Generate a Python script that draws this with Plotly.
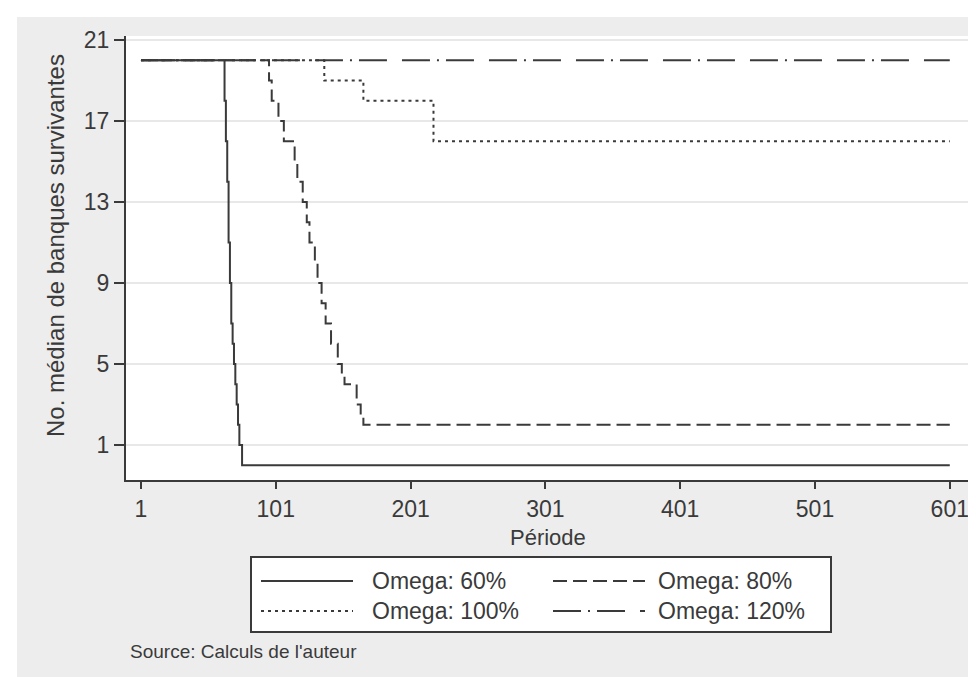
import plotly.graph_objects as go

# Données (périodes où la médiane change, valeurs)
periode_60 = [1, 63, 64, 65, 66, 67, 68, 69, 70, 71, 72, 73, 74, 76, 601]
banques_60 = [20, 18, 16, 14, 11, 9, 7, 6, 5, 4, 3, 2, 1, 0, 0]

periode_80 = [1, 96, 98, 103, 107, 115, 117, 121, 124, 126, 130, 132, 135,
              138, 142, 147, 150, 152, 161, 164, 166, 601]
banques_80 = [20, 19, 18, 17, 16, 15, 14, 13, 12, 11, 10, 9, 8,
              7, 6, 5, 4.5, 4, 3, 2.5, 2, 2]

periode_100 = [1, 137, 166, 218, 601]
banques_100 = [20, 19, 18, 16, 16]

periode_120 = [1, 601]
banques_120 = [20, 20]

x_ticks = [1, 101, 201, 301, 401, 501, 601]
y_ticks = [1, 5, 9, 13, 17, 21]

series = [
    ("Omega: 60%", periode_60, banques_60, "solid"),
    ("Omega: 80%", periode_80, banques_80, "14px,6px"),
    ("Omega: 100%", periode_100, banques_100, "3px,4px"),
    ("Omega: 120%", periode_120, banques_120, "28px,7px,2px,7px,28px,15px"),
]

W, H = 976, 677
L, R, T, B = 118, 14, 28, 205
PW, PH = W - L - R, H - T - B
INK = "#3a3a3a"
FONT = "Liberation Sans, Arial, sans-serif"


def px(x, y):
    # pixel -> paper coordinates
    return (x - L) / PW, (H - B - y) / PH


fig = go.Figure()
for name, xs, ys, dash in series:
    fig.add_trace(go.Scatter(x=xs, y=ys, mode="lines", name=name,
                             line=dict(color=INK, width=2, dash=dash, shape="hv"),
                             showlegend=False))

shapes = []
# white border around the grey panel
for x0, y0, x1, y1 in [(0, 0, W, 9), (0, 0, 9, H), (0, 675, W, H), (968, 0, W, H)]:
    a, b = px(x0, y0)
    c, d = px(x1, y1)
    shapes.append(dict(type="rect", xref="paper", yref="paper", x0=a, y0=b, x1=c, y1=d,
                       fillcolor="white", line=dict(width=0), layer="below"))

# legend box
a, b = px(243, 549)
c, d = px(823, 624)
shapes.append(dict(type="rect", xref="paper", yref="paper", x0=a, y0=b, x1=c, y1=d,
                   fillcolor="white", line=dict(color=INK, width=2)))

annotations = []
leg_pos = [(253, 345, 362, 573), (545, 637, 648, 573), (253, 345, 362, 603), (545, 637, 648, 603)]
for (name, _, _, dash), (lx0, lx1, tx, ly) in zip(series, leg_pos):
    a, b = px(lx0, ly)
    c, _ = px(lx1, ly)
    shapes.append(dict(type="line", xref="paper", yref="paper", x0=a, y0=b, x1=c, y1=b,
                       line=dict(color=INK, width=2, dash=dash)))
    t, _ = px(tx, ly)
    annotations.append(dict(x=t, y=b, xref="paper", yref="paper", text=name, showarrow=False,
                            xanchor="left", yanchor="middle",
                            font=dict(size=23, color=INK, family=FONT)))

a, b = px(47, 238)
annotations.append(dict(x=a, y=b, xref="paper", yref="paper", text="No. médian de banques survivantes",
                        textangle=-90, showarrow=False, xanchor="center", yanchor="middle",
                        font=dict(size=24, color=INK, family=FONT)))
a, b = px(540, 529)
annotations.append(dict(x=a, y=b, xref="paper", yref="paper", text="Période", showarrow=False,
                        xanchor="center", yanchor="middle",
                        font=dict(size=22, color=INK, family=FONT)))
a, b = px(120, 643)
annotations.append(dict(x=a, y=b, xref="paper", yref="paper", text="Source: Calculs de l'auteur",
                        showarrow=False, xanchor="left", yanchor="middle",
                        font=dict(size=19, color=INK, family=FONT)))

fig.update_layout(
    width=W, height=H,
    margin=dict(l=L, r=R, t=T, b=B, pad=0),
    paper_bgcolor="#ededed",
    plot_bgcolor="white",
    font=dict(family=FONT, size=23, color=INK),
    shapes=shapes,
    annotations=annotations,
    showlegend=False,
)
fig.update_xaxes(range=[-10.1, 616], tickvals=x_ticks, ticks="outside", ticklen=7,
                 tickwidth=2, tickcolor=INK, showline=True, linecolor=INK, linewidth=2,
                 showgrid=False, zeroline=False)
fig.update_yaxes(range=[-0.73, 21.2], tickvals=y_ticks, ticks="outside", ticklen=10,
                 tickwidth=2, tickcolor=INK, showline=True, linecolor=INK, linewidth=2,
                 showgrid=True, gridcolor="#e8e8e8", gridwidth=2, zeroline=False)

fig.write_html("out.html")
